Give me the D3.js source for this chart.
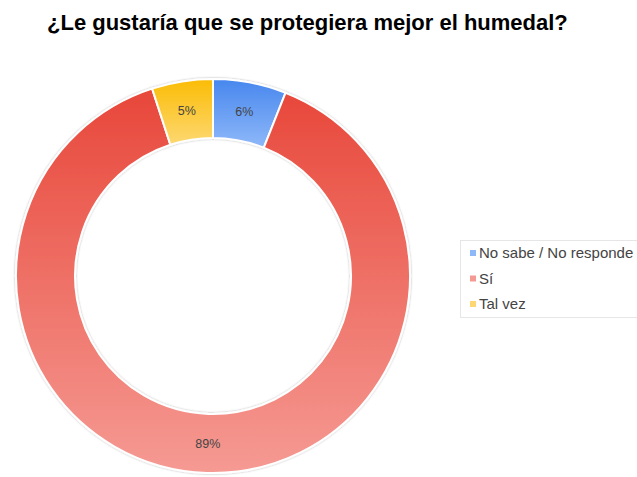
<!DOCTYPE html>
<html>
<head>
<meta charset="utf-8">
<script src="https://cdn.jsdelivr.net/npm/d3@7"></script>
<style>
  body { margin: 0; background: #fff; }
  svg { display: block; font-family: "Liberation Sans", Arial, sans-serif; }
</style>
</head>
<body>
<div id="chart"></div>
<script>
var categories = ["No sabe / No responde", "Sí", "Tal vez"];
var values = [6, 89, 5];
var colorsTop = ["#4787ee", "#e8473a", "#fbbc05"];
var colorsBottom = ["#8fb8f9", "#f59a93", "#fdd872"];
var TITLE = "¿Le gustaría que se protegiera mejor el humedal?";

var W = 637, H = 477;
var CX = 213, CY = 276, R = 197, IR = 138;

var svg = d3.select("#chart").append("svg")
  .attr("width", W).attr("height", H);

var defs = svg.append("defs");

// vertical gradient over each slice's own bounding box
categories.forEach(function(c, i) {
  var grad = defs.append("linearGradient")
    .attr("id", "grad" + i)
    .attr("x1", 0).attr("y1", 0)
    .attr("x2", 0).attr("y2", 1);
  grad.append("stop").attr("offset", "0%").attr("stop-color", colorsTop[i]);
  grad.append("stop").attr("offset", "100%").attr("stop-color", colorsBottom[i]);
});

var shadow = defs.append("filter").attr("id", "shadow")
  .attr("x", "-10%").attr("y", "-10%").attr("width", "120%").attr("height", "120%");
shadow.append("feDropShadow").attr("dx", 0).attr("dy", 0).attr("stdDeviation", 1.2)
  .attr("flood-color", "#000").attr("flood-opacity", 0.3);

svg.append("text")
  .attr("x", 47).attr("y", 30)
  .attr("font-size", 22).attr("font-weight", "bold").attr("fill", "#000")
  .text(TITLE);

var pie = d3.pie().sort(null).value(function(d) { return d; });
var arcs = pie(values);

var arc = d3.arc().innerRadius(IR).outerRadius(R);
var labelArc = d3.arc().innerRadius((IR + R) / 2).outerRadius((IR + R) / 2);

var g = svg.append("g")
  .attr("transform", "translate(" + CX + "," + CY + ")");

g.append("g").attr("filter", "url(#shadow)")
  .selectAll("path")
  .data(arcs)
  .enter().append("path")
  .attr("d", arc)
  .attr("fill", function(d, i) { return "url(#grad" + i + ")"; })
  .attr("stroke", "#fff")
  .attr("stroke-width", 2);

g.append("g").selectAll("text")
  .data(arcs)
  .enter().append("text")
  .attr("transform", function(d) { return "translate(" + labelArc.centroid(d) + ")"; })
  .attr("text-anchor", "middle")
  .attr("dy", "0.35em")
  .attr("font-size", 12.5)
  .attr("fill", "#444")
  .text(function(d) { return Math.round(d.data) + "%"; });

// legend
var legend = svg.append("g").attr("transform", "translate(460,240)");
legend.append("rect")
  .attr("x", 0.5).attr("y", 0.5).attr("width", 200).attr("height", 77)
  .attr("fill", "#fff").attr("stroke", "#e6e6e6");

var item = legend.selectAll(".item")
  .data(categories)
  .enter().append("g")
  .attr("class", "item")
  .attr("transform", function(d, i) { return "translate(10," + (13 + i * 25.5) + ")"; });

item.append("rect")
  .attr("x", 0).attr("y", -3).attr("width", 6).attr("height", 6)
  .attr("fill", function(d, i) { return colorsBottom[i]; });

item.append("text")
  .attr("x", 9).attr("dy", "0.36em")
  .attr("font-size", 15).attr("fill", "#444")
  .text(function(d) { return d; });
</script>
</body>
</html>
